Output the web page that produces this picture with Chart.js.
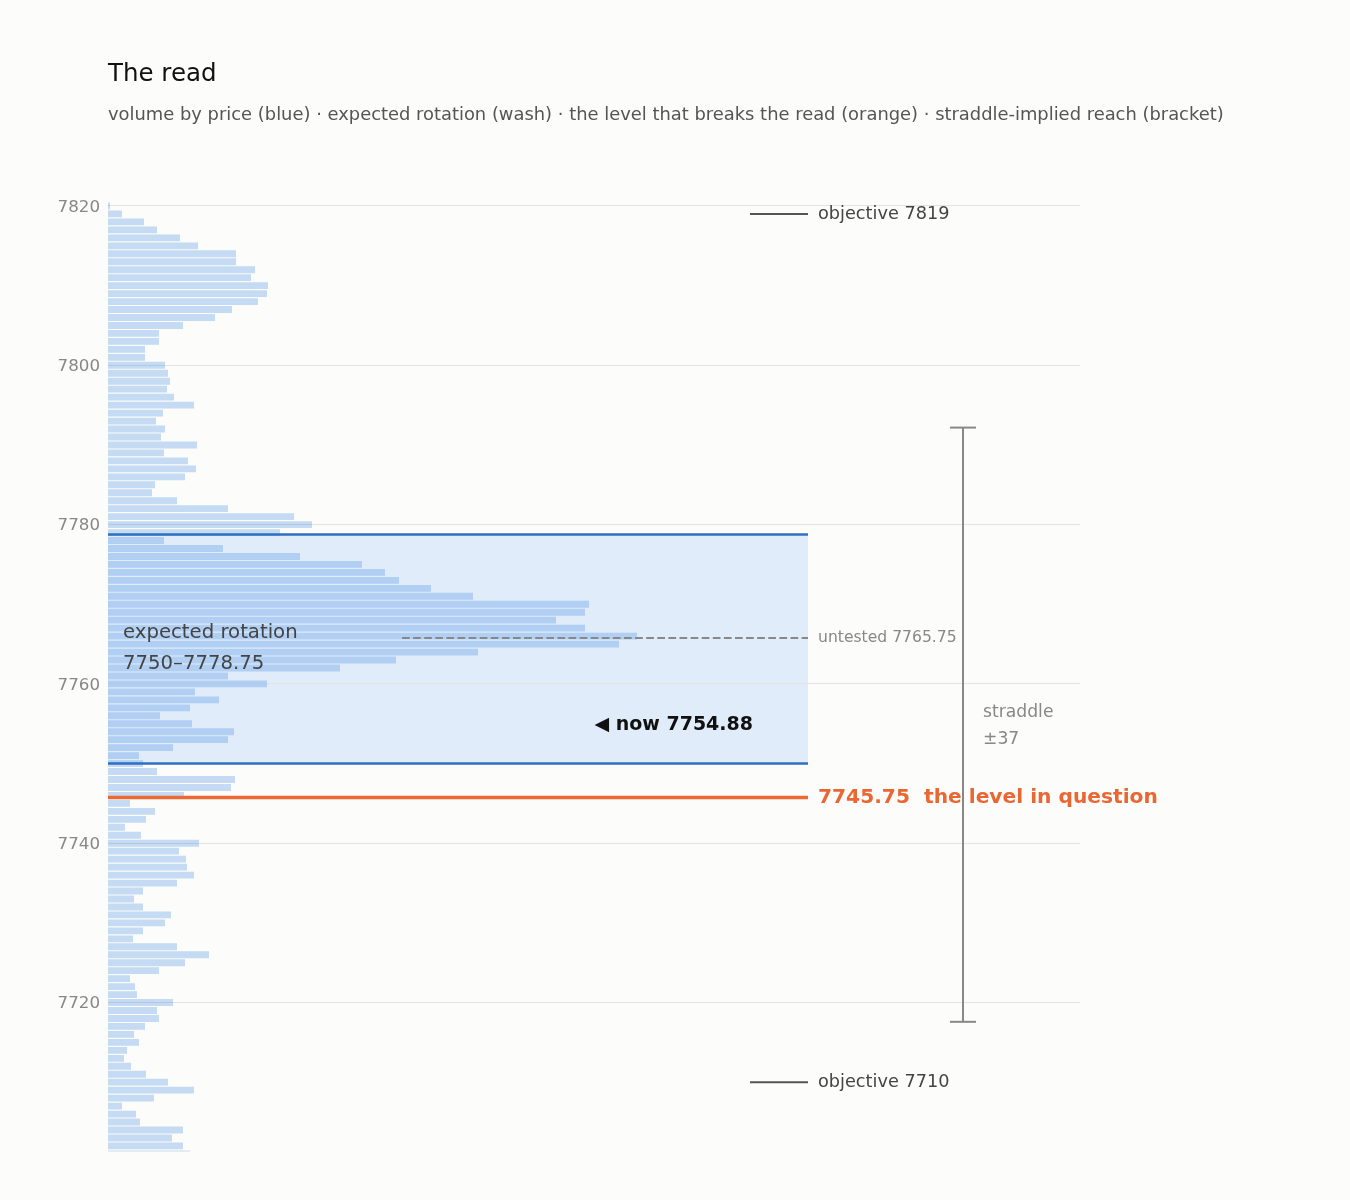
<!DOCTYPE html>
<html>
<head>
<meta charset="utf-8">
<title>The read</title>
<script src="https://cdn.jsdelivr.net/npm/chart.js@4.4.1/dist/chart.umd.min.js"></script>
<style>
  html, body { margin: 0; padding: 0; background: #fcfcfa; }
  #wrap { width: 1350px; height: 1200px; }
</style>
</head>
<body>
<div id="wrap"><canvas id="readChart" width="1350" height="1200"></canvas></div>
<script>
// price bins (1 pt), top to bottom
var prices = [
  7820, 7819, 7818, 7817, 7816, 7815, 7814, 7813, 7812, 7811,
  7810, 7809, 7808, 7807, 7806, 7805, 7804, 7803, 7802, 7801,
  7800, 7799, 7798, 7797, 7796, 7795, 7794, 7793, 7792, 7791,
  7790, 7789, 7788, 7787, 7786, 7785, 7784, 7783, 7782, 7781,
  7780, 7779, 7778, 7777, 7776, 7775, 7774, 7773, 7772, 7771,
  7770, 7769, 7768, 7767, 7766, 7765, 7764, 7763, 7762, 7761,
  7760, 7759, 7758, 7757, 7756, 7755, 7754, 7753, 7752, 7751,
  7750, 7749, 7748, 7747, 7746, 7745, 7744, 7743, 7742, 7741,
  7740, 7739, 7738, 7737, 7736, 7735, 7734, 7733, 7732, 7731,
  7730, 7729, 7728, 7727, 7726, 7725, 7724, 7723, 7722, 7721,
  7720, 7719, 7718, 7717, 7716, 7715, 7714, 7713, 7712, 7711,
  7710, 7709, 7708, 7707, 7706, 7705, 7704, 7703, 7702, 7701
];

// volume traded at each price (same order)
var volume = [
    2,  14,  36,  49,  72,  90, 128, 128, 147, 143,
  160, 159, 150, 124, 107,  75,  51,  51,  37,  37,
   57,  60,  62,  59,  66,  86,  55,  48,  57,  53,
   89,  56,  80,  88,  77,  47,  44,  69, 120, 186,
  204, 172,  56, 115, 192, 254, 277, 291, 323, 365,
  481, 477, 448, 477, 529, 511, 370, 288, 232, 120,
  159,  87, 111,  82,  52,  84, 126, 120,  65,  31,
   35,  49, 127, 123,  76,  22,  47,  38,  17,  33,
   91,  71,  78,  79,  86,  69,  35,  26,  35,  63,
   57,  35,  25,  69, 101,  77,  51,  22,  27,  29,
   65,  49,  51,  37,  26,  31,  19,  16,  23,  38,
   60,  86,  46,  14,  28,  32,  75,  64,  75,  82
];

var priceTicks = [7720, 7740, 7760, 7780, 7800, 7820];

// the levels of the read
var rotationBand = [7750, 7778.75];
var breakLevel = 7745.75;
var untestedLevel = 7765.75;
var objectives = [7819, 7710];
var nowPrice = 7754.88;
var straddleHalf = 37.3;

var titleText = 'The read';
var subtitleParts = [
  'volume by price (blue)',
  'expected rotation (wash)',
  'the level that breaks the read (orange)',
  'straddle-implied reach (bracket)'
];

// where the marks sit along the volume axis
var markX = {
  end: 700, objFrom: 642, label: 710, untestedFrom: 294,
  bracket: 855, cap: 13, straddleLabel: 875, rotationLabel: 15, nowRight: 645
};

var FONT = '"DejaVu Sans", "Noto Sans", sans-serif';
Chart.defaults.font.family = FONT;

function hline(ctx, x1, y, x2) {
  ctx.beginPath();
  ctx.moveTo(x1, y);
  ctx.lineTo(x2, y);
  ctx.stroke();
}

var readMarks = {
  id: 'readMarks',
  beforeDraw: function(chart) {
    // the expected rotation wash, under grid and bars
    var ctx = chart.ctx, xs = chart.scales.x, ys = chart.scales.y;
    var x0 = xs.getPixelForValue(0), x1 = xs.getPixelForValue(markX.end);
    var yTop = ys.getPixelForValue(rotationBand[1]), yBot = ys.getPixelForValue(rotationBand[0]);
    ctx.save();
    ctx.fillStyle = '#e1ecfa';
    ctx.fillRect(x0, yTop, x1 - x0, yBot - yTop);
    ctx.restore();
  },
  afterDatasetsDraw: function(chart) {
    var ctx = chart.ctx, xs = chart.scales.x, ys = chart.scales.y;
    var x0 = xs.getPixelForValue(0);
    var xEnd = xs.getPixelForValue(markX.end);
    var xLab = xs.getPixelForValue(markX.label);
    ctx.save();
    ctx.textBaseline = 'middle';
    ctx.textAlign = 'left';

    // band edges
    ctx.strokeStyle = '#2f6fc2';
    ctx.lineWidth = 2.5;
    rotationBand.forEach(function(p) {
      hline(ctx, x0, ys.getPixelForValue(p), xEnd);
    });

    // band label
    var yMid = (ys.getPixelForValue(rotationBand[0]) + ys.getPixelForValue(rotationBand[1])) / 2;
    var xRot = xs.getPixelForValue(markX.rotationLabel);
    ctx.fillStyle = '#444';
    ctx.font = '19.7px ' + FONT;
    ctx.fillText('expected rotation', xRot, yMid - 16);
    ctx.fillText(rotationBand[0] + '\u2013' + rotationBand[1], xRot, yMid + 15);

    // untested level
    var yU = ys.getPixelForValue(untestedLevel);
    ctx.strokeStyle = '#888';
    ctx.lineWidth = 2;
    ctx.setLineDash([7.7, 3.4]);
    hline(ctx, xs.getPixelForValue(markX.untestedFrom), yU, xEnd);
    ctx.setLineDash([]);
    ctx.fillStyle = '#888';
    ctx.font = '15.6px ' + FONT;
    ctx.fillText('untested ' + untestedLevel.toFixed(2), xLab, yU);

    // the level that breaks the read
    var yB = ys.getPixelForValue(breakLevel);
    ctx.strokeStyle = '#ec6934';
    ctx.lineWidth = 3.5;
    hline(ctx, x0, yB, xEnd);
    ctx.fillStyle = '#ea6633';
    ctx.font = 'bold 20.2px ' + FONT;
    ctx.fillText(breakLevel.toFixed(2) + '  the level in question', xLab, yB);

    // objectives
    ctx.strokeStyle = '#555';
    ctx.lineWidth = 2;
    ctx.fillStyle = '#444';
    ctx.font = '17.7px ' + FONT;
    objectives.forEach(function(p) {
      var yy = ys.getPixelForValue(p);
      hline(ctx, xs.getPixelForValue(markX.objFrom), yy, xEnd);
      ctx.fillText('objective ' + p, xLab, yy);
    });

    // now
    ctx.textAlign = 'right';
    ctx.fillStyle = '#111';
    ctx.font = 'bold 19px ' + FONT;
    ctx.fillText('\u25C0 now ' + nowPrice.toFixed(2), xs.getPixelForValue(markX.nowRight), ys.getPixelForValue(nowPrice));

    // straddle bracket
    var xb = xs.getPixelForValue(markX.bracket);
    var capW = xs.getPixelForValue(markX.cap) - x0;
    var ySt = ys.getPixelForValue(nowPrice + straddleHalf);
    var ySb = ys.getPixelForValue(nowPrice - straddleHalf);
    ctx.strokeStyle = '#888';
    ctx.lineWidth = 2;
    ctx.beginPath();
    ctx.moveTo(xb, ySt);
    ctx.lineTo(xb, ySb);
    ctx.stroke();
    hline(ctx, xb - capW, ySt, xb + capW);
    hline(ctx, xb - capW, ySb, xb + capW);
    ctx.textAlign = 'left';
    ctx.fillStyle = '#888';
    ctx.font = '17.2px ' + FONT;
    var yN = ys.getPixelForValue(nowPrice);
    var xs2 = xs.getPixelForValue(markX.straddleLabel);
    ctx.fillText('straddle', xs2, yN - 12);
    ctx.fillText('\u00B1' + Math.round(straddleHalf), xs2, yN + 15);

    ctx.restore();
  },
  afterDraw: function(chart) {
    // title and subtitle, left-aligned with the plot
    var ctx = chart.ctx, left = chart.chartArea.left;
    ctx.save();
    ctx.textAlign = 'left';
    ctx.textBaseline = 'alphabetic';
    ctx.fillStyle = '#111';
    ctx.font = '24.5px ' + FONT;
    ctx.fillText(titleText, left, 81);
    ctx.fillStyle = '#555';
    ctx.font = '17.9px ' + FONT;
    ctx.fillText(subtitleParts.join(' \u00B7 '), left, 119.5);
    ctx.restore();
  }
};

var ctx = document.getElementById('readChart').getContext('2d');
var readChart = new Chart(ctx, {
  type: 'bar',
  data: {
    datasets: [{
      label: 'volume by price',
      data: prices.map(function(p, i) { return { x: volume[i], y: p }; }),
      backgroundColor: 'rgba(32, 120, 222, 0.25)',
      borderWidth: 0,
      barPercentage: 0.86,
      categoryPercentage: 1
    }]
  },
  options: {
    indexAxis: 'y',
    responsive: false,
    animation: false,
    layout: { padding: { left: 0, right: 270, top: 202, bottom: 48.5 } },
    scales: {
      x: {
        type: 'linear',
        min: 0,
        max: 972,
        display: false
      },
      y: {
        type: 'linear',
        min: 7701.3,
        max: 7820.5,
        offset: false,
        afterFit: function(scale) { scale.width = 108; },
        afterBuildTicks: function(scale) {
          scale.ticks = priceTicks.map(function(v) { return { value: v }; });
        },
        ticks: {
          color: '#888',
          font: { size: 16.7 },
          padding: 8,
          labelOffset: 1.5,
          callback: function(v) { return String(v); }
        },
        grid: { color: '#e3e3e0', lineWidth: 1, drawTicks: false, offset: false },
        border: { display: false }
      }
    },
    plugins: {
      legend: { display: false },
      tooltip: { enabled: false },
      title: { display: false },
      subtitle: { display: false }
    }
  },
  plugins: [readMarks]
});
</script>
</body>
</html>
